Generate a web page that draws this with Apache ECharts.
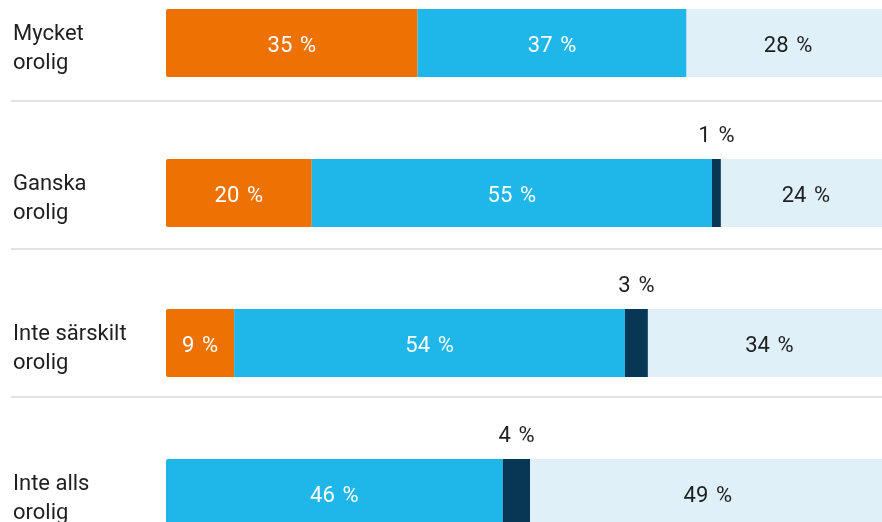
<!DOCTYPE html>
<html>
<head>
<meta charset="utf-8">
<script src="https://cdn.jsdelivr.net/npm/echarts@6/dist/echarts.min.js"></script>
<style>
html,body{margin:0;padding:0;background:#fff;}
#chart{width:882px;height:522px;}
</style>
</head>
<body>
<div id="chart"></div>
<script>
var categories = ['Mycket\norolig', 'Ganska\norolig', 'Inte särskilt\norolig', 'Inte alls\norolig'];
var orangeVals = [34.7, 20.1, 9.4, 0];
var blueVals = [37.1, 55.2, 53.9, 46.45];
var darkVals = [0, 1.24, 3.17, 3.78];
var lightVals = [28, 24, 34, 49];

var FONT = 'Roboto';
function fmt(p) { return p.value > 0 ? Math.round(p.value) + ' \u200a%' : ''; }

function mk(vals, prev) {
  return vals.map(function (v, i) {
    var item = { value: v };
    if (prev && prev[i] === 0) item.itemStyle = { borderRadius: [2, 0, 0, 2] };
    return item;
  });
}

var inLabel = function (color) {
  return { show: true, position: 'inside', offset: [0, 3], color: color, fontFamily: FONT, fontSize: 22, formatter: fmt };
};

var chart = echarts.init(document.getElementById('chart'), null, { renderer: 'canvas' });
var option = {
  animation: false,
  backgroundColor: '#ffffff',
  grid: { left: 166, top: -32, width: 725, height: 600, containLabel: false, outerBoundsMode: 'none' },
  xAxis: {
    type: 'value', min: 0, max: 100, show: false
  },
  yAxis: {
    type: 'category', inverse: true, data: categories,
    axisLine: { show: false }, axisTick: { show: false }, splitLine: { show: false },
    axisLabel: {
      align: 'left', margin: 153, color: '#1f1f1f', fontFamily: FONT, fontSize: 22,
      formatter: function (v) {
        return '{s|}\n' + v.split('\n').map(function (t) { return '{a|' + t + '}'; }).join('\n');
      },
      rich: {
        s: { lineHeight: 11, fontSize: 10 },
        a: { lineHeight: 29, fontSize: 22, fontFamily: FONT, color: '#1f1f1f' }
      }
    }
  },
  series: [
    {
      type: 'bar', stack: 's', barWidth: 68, data: orangeVals,
      itemStyle: { color: '#ee7203', borderRadius: [2, 0, 0, 2] },
      label: inLabel('#ffffff')
    },
    {
      type: 'bar', stack: 's', barWidth: 68, data: mk(blueVals, orangeVals),
      itemStyle: { color: '#1fb6e9' },
      label: inLabel('#ffffff')
    },
    {
      type: 'bar', stack: 's', barWidth: 68, data: darkVals,
      itemStyle: { color: '#073754' },
      label: { show: true, position: 'top', distance: 12, color: '#1f1f1f', fontFamily: FONT, fontSize: 22, formatter: fmt }
    },
    {
      type: 'bar', stack: 's', barWidth: 68, data: lightVals,
      itemStyle: { color: '#dff0f8' },
      label: inLabel('#1f1f1f')
    }
  ],
  graphic: [101, 249, 397].map(function (y) {
    return {
      type: 'line', silent: true,
      shape: { x1: 11, y1: y, x2: 882, y2: y },
      style: { stroke: '#d9d9d9', lineWidth: 1.5 }
    };
  })
};
chart.setOption(option);
</script>
</body>
</html>
